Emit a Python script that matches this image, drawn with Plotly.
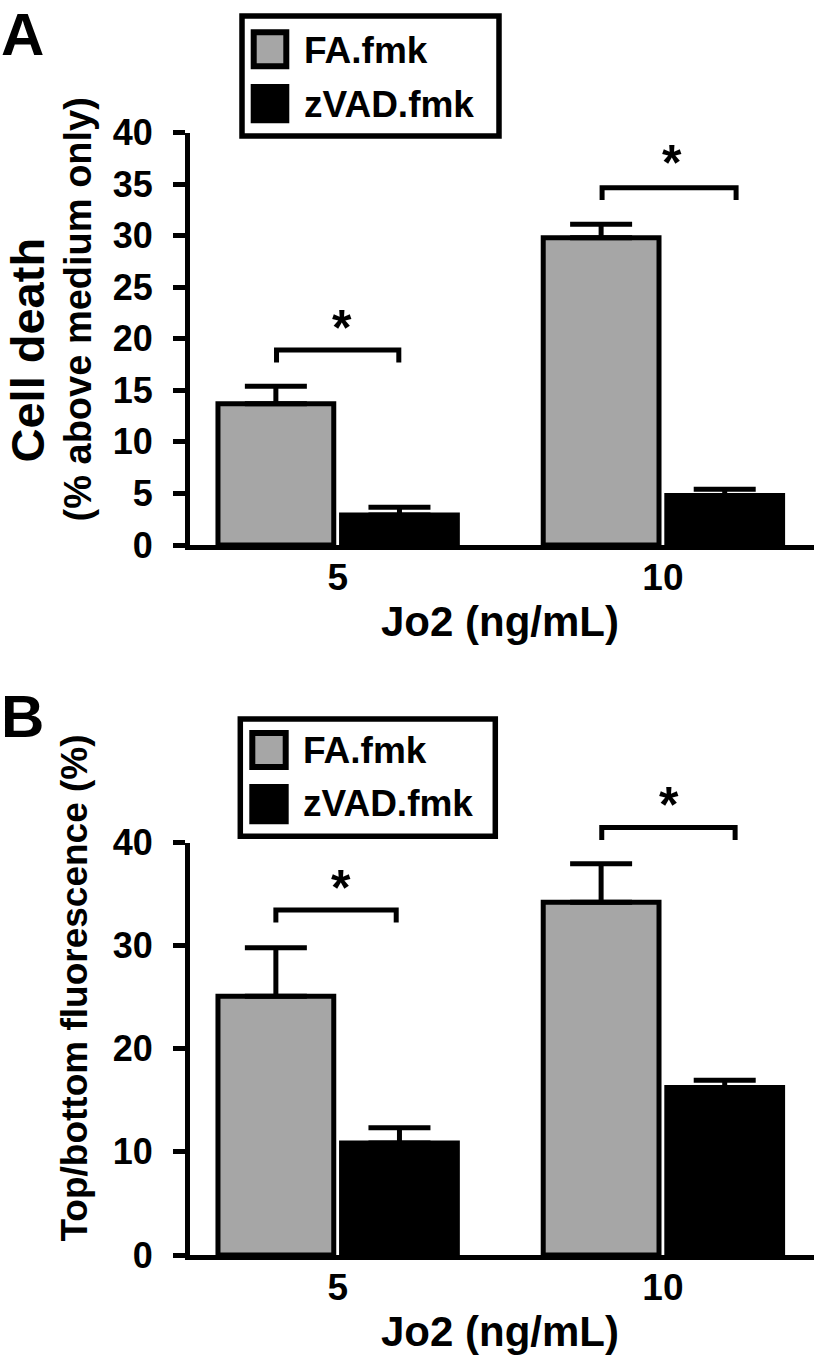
import plotly.graph_objects as go

# ---------------- data ----------------
doses = ["5", "10"]
series_names = ["FA.fmk", "zVAD.fmk"]

# Panel A: cell death (% above medium only)
a_fa = [13.7, 29.8]
a_fa_err = [1.7, 1.3]
a_zvad = [2.9, 4.8]
a_zvad_err = [0.75, 0.6]
a_ticks = [0, 5, 10, 15, 20, 25, 30, 35, 40]
# significance brackets: (group, dx_left, dx_right, y_top, y_leg_bottom, star_dx, star_y)
a_brackets = [(0, -0.188, 0.188, 18.9, 17.7, 0.013, 21.5),
              (1, -0.187, 0.225, 34.65, 33.45, 0.029, 37.5)]

# Panel B: top/bottom fluorescence (%)
b_fa = [25.1, 34.2]
b_fa_err = [4.7, 3.75]
b_zvad = [10.85, 16.25]
b_zvad_err = [1.5, 0.7]
b_ticks = [0, 10, 20, 30, 40]
b_brackets = [(0, -0.19, 0.18, 33.45, 32.25, 0.011, 36.1),
              (1, -0.188, 0.222, 41.45, 40.25, 0.02, 44.1)]

# ---------------- styling ----------------
W, H = 819, 1360
GREY = "#a6a6a6"
FONT = "Liberation Sans, Arial, sans-serif"
xpos = list(range(len(doses)))
BAR_W = 0.356
FA_OFF = -0.368
ZV_OFF = 0.012
YMAX = 40


def px(x):
    return x / W


def py(y):
    return 1 - y / H


# panel pixel geometry (top of axis = YMAX, bottom = 0)
A_TOP, A_BOT = 132.5, 545
B_TOP, B_BOT = 842.5, 1255
A_EXT, B_EXT = 100, 790   # top of the invisible bracket axes

fig = go.Figure()


def add_panel(xa, ya, ya_br, fa, fa_err, zv, zv_err, brackets):
    fig.add_trace(go.Bar(
        x=xpos, y=fa, width=BAR_W, offset=FA_OFF, name=series_names[0],
        marker=dict(color=GREY, line=dict(color="black", width=5)),
        error_y=dict(type="data", array=fa_err, arrayminus=[0] * len(fa),
                     symmetric=False, color="black", thickness=5, width=31),
        xaxis=xa, yaxis=ya, showlegend=False))
    fig.add_trace(go.Bar(
        x=xpos, y=zv, width=BAR_W, offset=ZV_OFF, name=series_names[1],
        marker=dict(color="black", line=dict(color="black", width=5)),
        error_y=dict(type="data", array=zv_err, arrayminus=[0] * len(zv),
                     symmetric=False, color="black", thickness=5, width=31),
        xaxis=xa, yaxis=ya, showlegend=False))
    for (g, dl, dr, yt, yb, sdx, sy) in brackets:
        xl, xr = xpos[g] + dl, xpos[g] + dr
        fig.add_trace(go.Scatter(
            x=[xl, xl, xr, xr], y=[yb, yt, yt, yb], mode="lines",
            line=dict(color="black", width=5), cliponaxis=False,
            xaxis=xa, yaxis=ya_br, showlegend=False, hoverinfo="skip"))
        fig.add_annotation(x=xpos[g] + sdx, y=sy, xref=xa, yref=ya_br, text="<b>*</b>",
                           showarrow=False, yshift=-5,
                           font=dict(family=FONT, size=50, color="black"))


add_panel("x", "y", "y3", a_fa, a_fa_err, a_zvad, a_zvad_err, a_brackets)
add_panel("x2", "y2", "y4", b_fa, b_fa_err, b_zvad, b_zvad_err, b_brackets)

xdom = [px(190), px(813.5)]
xrange = [-0.454, 1.463]
common_x = dict(domain=xdom, range=xrange, showline=True, linewidth=5,
                linecolor="black", ticks="", tickvals=xpos, ticktext=doses,
                tickfont=dict(family=FONT, size=37, color="black", weight="bold"),
                ticklabelstandoff=-4, showgrid=False, zeroline=False,
                fixedrange=True, automargin=False)
common_y = dict(range=[0, YMAX], showline=True, linewidth=5, linecolor="black",
                ticks="outside", ticklen=12, tickwidth=5, tickcolor="black",
                tickfont=dict(family=FONT, size=36, color="black", weight="bold"),
                ticklabelstandoff=13, showgrid=False, zeroline=False,
                fixedrange=True, automargin=False)
hidden_y = dict(visible=False, showgrid=False, zeroline=False, fixedrange=True,
                automargin=False)

fig.update_layout(
    template="none",
    width=W, height=H, margin=dict(l=0, r=0, t=0, b=0, pad=0, autoexpand=False),
    paper_bgcolor="white", plot_bgcolor="rgba(0,0,0,0)", barmode="overlay",
    showlegend=False,
    xaxis=dict(anchor="y", **common_x),
    yaxis=dict(anchor="x", domain=[py(A_BOT), py(A_TOP)], tickvals=a_ticks, **common_y),
    xaxis2=dict(anchor="y2", **common_x),
    yaxis2=dict(anchor="x2", domain=[py(B_BOT), py(B_TOP)], tickvals=b_ticks, **common_y),
    yaxis3=dict(anchor="x", domain=[py(A_BOT), py(A_EXT)],
                range=[0, YMAX * (A_BOT - A_EXT) / (A_BOT - A_TOP)], **hidden_y),
    yaxis4=dict(anchor="x2", domain=[py(B_BOT), py(B_EXT)],
                range=[0, YMAX * (B_BOT - B_EXT) / (B_BOT - B_TOP)], **hidden_y),
)

# ---------------- text: panel letters and axis titles ----------------
def txt(x, y, s, size, angle=0, xanchor="center"):
    fig.add_annotation(x=px(x), y=py(y), xref="paper", yref="paper", text=s,
                       showarrow=False, textangle=angle, xanchor=xanchor,
                       yanchor="middle", borderpad=0,
                       font=dict(family=FONT, size=size, color="black"))


txt(0, 34, "<b>A</b>", 60, xanchor="left")
txt(0, 716, "<b>B</b>", 60, xanchor="left")
txt(27.5, 350, "<b>Cell death</b>", 47, angle=-90)
txt(77.5, 310, "<b>(% above medium only)</b>", 38, angle=-90)
txt(74, 988.5, "<b>Top/bottom fluorescence (%)</b>", 37, angle=-90)
txt(500, 622, "<b>Jo2 (ng/mL)</b>", 42)
txt(500, 1331, "<b>Jo2 (ng/mL)</b>", 42)

# ---------------- legends (drawn boxes) ----------------
def legend(box, sw1, sw2, ty1, ty2, tx):
    fig.add_shape(type="rect", xref="paper", yref="paper",
                  x0=px(box[0]), x1=px(box[1]), y0=py(box[2]), y1=py(box[3]),
                  line=dict(color="black", width=5.5), fillcolor="white", layer="above")
    fig.add_shape(type="rect", xref="paper", yref="paper",
                  x0=px(sw1[0]), x1=px(sw1[1]), y0=py(sw1[2]), y1=py(sw1[3]),
                  line=dict(color="black", width=6), fillcolor=GREY, layer="above")
    fig.add_shape(type="rect", xref="paper", yref="paper",
                  x0=px(sw2[0]), x1=px(sw2[1]), y0=py(sw2[2]), y1=py(sw2[3]),
                  line=dict(width=0), fillcolor="black", layer="above")
    txt(tx, ty1, "<b>%s</b>" % series_names[0], 37, xanchor="left")
    txt(tx, ty2, "<b>%s</b>" % series_names[1], 37, xanchor="left")


legend((242, 499, 16, 136), (253.7, 286.3, 32.3, 66.3), (250.7, 289.3, 84, 123.3), 51, 105, 303)
legend((240.3, 495.3, 719, 836.3), (252.3, 285.7, 733, 767), (249.3, 288.7, 784, 824.3), 750, 803, 302)

fig.write_html("out.html", config={"displayModeBar": False, "staticPlot": True},
               post_script="document.body.style.margin='0';")
